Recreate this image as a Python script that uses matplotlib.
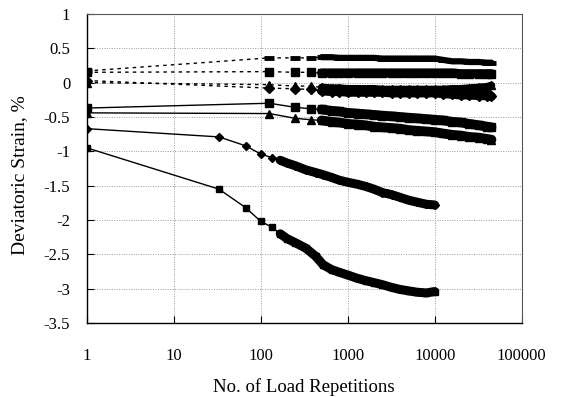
import numpy as np
import matplotlib.pyplot as plt

plt.rcParams['font.family'] = ['Liberation Serif', 'DejaVu Serif']

# load repetitions (long tests, ~45000 cycles)
n_long = [1, 125, 250, 375, 500, 650, 800, 1000, 1300, 1600, 2000, 2500, 3200,
          4000, 5000, 6300, 8000, 10000, 12500, 16000, 20000, 25000, 32000,
          40000, 45000]
# load repetitions (short tests, ~10000 cycles)
n_short = [1, 33, 67, 100, 133, 167, 200, 250, 330, 430, 520, 650, 800, 1000,
           1300, 1600, 2000, 2500, 3200, 4000, 5000, 6300, 8000, 10000]

# deviatoric strain, %  (dotted = extension side, solid = compression side)
ext_dash = [0.17, 0.36, 0.36, 0.36, 0.37, 0.37, 0.36, 0.36, 0.36, 0.36, 0.36,
            0.35, 0.35, 0.35, 0.35, 0.35, 0.35, 0.35, 0.33, 0.31, 0.31, 0.30,
            0.30, 0.29, 0.29]
ext_sq = [0.15, 0.16, 0.15, 0.15, 0.14, 0.14, 0.14, 0.14, 0.14, 0.14, 0.14,
          0.14, 0.14, 0.14, 0.14, 0.14, 0.14, 0.14, 0.14, 0.14, 0.13, 0.13,
          0.13, 0.13, 0.13]
ext_tri = [0.0, -0.03, -0.05, -0.05, -0.07, -0.08, -0.08, -0.09, -0.09, -0.09,
           -0.09, -0.10, -0.10, -0.10, -0.10, -0.10, -0.10, -0.10, -0.10, -0.09,
           -0.09, -0.08, -0.07, -0.06, -0.04]
ext_dia = [0.03, -0.08, -0.09, -0.10, -0.12, -0.13, -0.13, -0.14, -0.14, -0.14,
           -0.14, -0.14, -0.15, -0.15, -0.15, -0.15, -0.15, -0.15, -0.16, -0.17,
           -0.18, -0.18, -0.19, -0.19, -0.20]
comp_sq = [-0.37, -0.30, -0.36, -0.38, -0.39, -0.41, -0.42, -0.44, -0.45, -0.46,
           -0.47, -0.48, -0.49, -0.50, -0.51, -0.52, -0.53, -0.54, -0.55, -0.57,
           -0.58, -0.60, -0.62, -0.64, -0.65]
comp_tri = [-0.44, -0.45, -0.52, -0.54, -0.55, -0.57, -0.58, -0.60, -0.61, -0.62,
            -0.64, -0.65, -0.66, -0.67, -0.69, -0.70, -0.71, -0.72, -0.74, -0.76,
            -0.77, -0.79, -0.80, -0.82, -0.83]
comp_dia = [-0.67, -0.79, -0.92, -1.04, -1.09, -1.13, -1.17, -1.21, -1.27, -1.31,
            -1.34, -1.38, -1.42, -1.45, -1.48, -1.51, -1.55, -1.60, -1.63, -1.67,
            -1.71, -1.74, -1.77, -1.78]
comp_sq2 = [-0.95, -1.55, -1.82, -2.02, -2.10, -2.20, -2.27, -2.33, -2.41, -2.53,
            -2.65, -2.72, -2.76, -2.80, -2.85, -2.88, -2.91, -2.94, -2.98, -3.01,
            -3.03, -3.05, -3.06, -3.04]

ytick_vals = [1, 0.5, 0, -0.5, -1, -1.5, -2, -2.5, -3, -3.5]
ytick_text = ['1', '0.5', '0', '-0.5', '-1', '-1.5', '-2', '-2.5', '-3', '-3.5']
xtick_vals = [1, 10, 100, 1000, 10000, 100000]
xtick_text = ['1', '10', '100', '1000', '10000', '100000']

fig = plt.figure(figsize=(5.63, 3.97), dpi=100)
ax = fig.add_axes([0.1545, 0.186, 0.772, 0.779])

dots = (0, (2.5, 3))
#        x, y, linestyle, marker, size, edge width, band width
series = [
    (n_long, ext_dash, dots, '_', 7, 3.5, 4.5),
    (n_long, ext_sq, dots, 's', 5.5, 1, 6.5),
    (n_long, ext_dia, dots, 'D', 5, 1, 6.5),
    (n_long, ext_tri, dots, '^', 6, 1, 5.5),
    (n_long, comp_sq, '-', 's', 5.5, 1, 7),
    (n_long, comp_tri, '-', '^', 6, 1, 7),
    (n_short, comp_dia, '-', 'D', 4.5, 1, 6.5),
    (n_short, comp_sq2, '-', 's', 4.5, 1, 6.5),
]
for xs, ys, ls, mk, ms, mew, band in series:
    ax.plot(xs, ys, color='black', lw=1.0, ls=ls, marker=mk, ms=ms,
            mew=mew, mfc='black', mec='black')
    # dense readings at high cycle counts merge into a solid band
    start = 4 if xs is n_long else 5
    ax.plot(xs[start:], ys[start:], color='black', lw=band,
            solid_capstyle='round')

ax.set_xscale('log')
ax.set_xlim(1, 100000)
ax.set_ylim(-3.5, 1)
ax.set_xticks(xtick_vals)
ax.set_xticklabels(xtick_text)
ax.set_yticks(ytick_vals)
ax.set_yticklabels(ytick_text)
ax.minorticks_off()
ax.tick_params(axis='x', direction='in', length=5, pad=18, labelsize=12)
ax.tick_params(axis='y', direction='in', length=5, pad=12, labelsize=12)
ax.grid(True, color='#999999', ls=(0, (1, 1.5)), lw=0.7)

for side in ['left', 'bottom']:
    ax.spines[side].set_linewidth(1.0)
for side in ['top', 'right']:
    ax.spines[side].set_color('#555555')
    ax.spines[side].set_linewidth(0.8)

ax.set_xlabel('No. of Load Repetitions', fontsize=13.5)
ax.xaxis.set_label_coords(0.498, -0.178)
ax.set_ylabel('Deviatoric Strain, %', fontsize=14)
ax.yaxis.set_label_coords(-0.135, 0.48)

fig.savefig('out.png', dpi=100)
